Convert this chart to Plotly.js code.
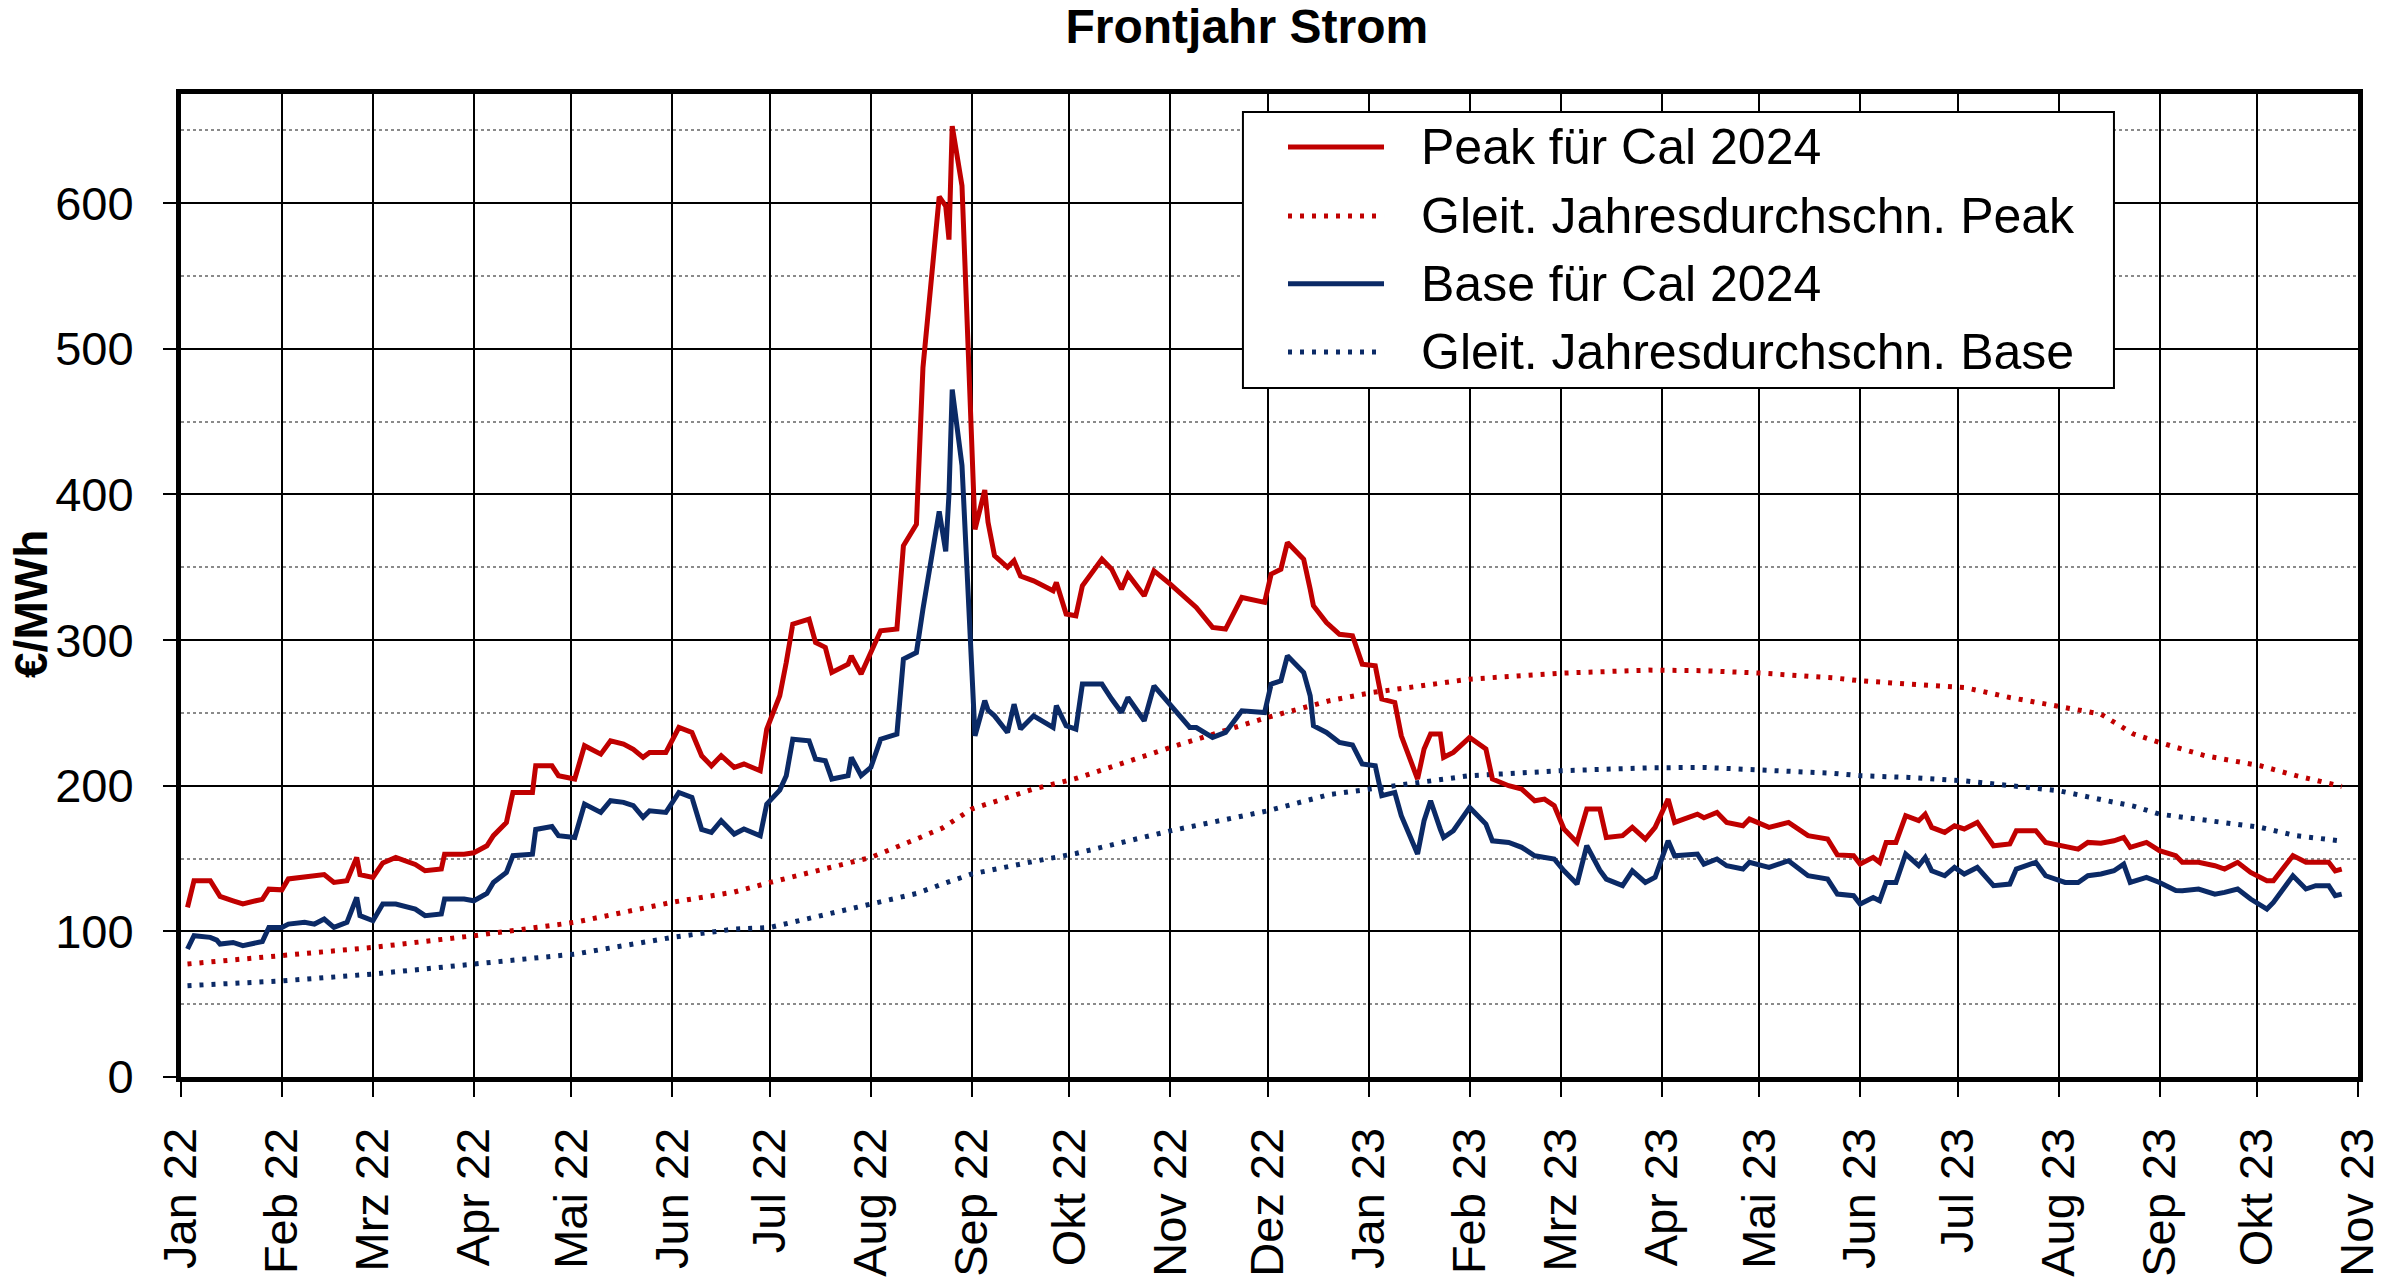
<!DOCTYPE html>
<html>
<head>
<meta charset="utf-8">
<script src="https://cdn.plot.ly/plotly-3.0.1.min.js"></script>
<style>
  html, body { margin: 0; padding: 0; background: #fff; }
  #chart { width: 2400px; height: 1287px; }
</style>
</head>
<body>
<div id="chart"></div>
<script>
// trading days (shared by Peak and Base)
const dates = [
  '2022-01-03','2022-01-04','2022-01-05','2022-01-10','2022-01-12','2022-01-13','2022-01-17','2022-01-20','2022-01-24','2022-01-26','2022-01-28',
  '2022-02-01','2022-02-03','2022-02-08','2022-02-11','2022-02-14','2022-02-17','2022-02-21','2022-02-24','2022-02-25',
  '2022-03-01','2022-03-04','2022-03-08','2022-03-14','2022-03-17','2022-03-22','2022-03-23','2022-03-29',
  '2022-04-01','2022-04-05','2022-04-07','2022-04-11','2022-04-13','2022-04-19','2022-04-20','2022-04-25','2022-04-27',
  '2022-05-02','2022-05-05','2022-05-10','2022-05-13','2022-05-17','2022-05-20','2022-05-23','2022-05-25','2022-05-30',
  '2022-06-03','2022-06-07','2022-06-10','2022-06-13','2022-06-16','2022-06-20','2022-06-23','2022-06-28','2022-06-30',
  '2022-07-04','2022-07-06','2022-07-08','2022-07-13','2022-07-15','2022-07-18','2022-07-20','2022-07-25','2022-07-26','2022-07-29',
  '2022-08-01','2022-08-04','2022-08-09','2022-08-11','2022-08-15','2022-08-17','2022-08-22','2022-08-24','2022-08-25','2022-08-26','2022-08-29',
  '2022-09-02','2022-09-05','2022-09-06','2022-09-08','2022-09-12','2022-09-14','2022-09-16','2022-09-20','2022-09-26','2022-09-27','2022-09-30',
  '2022-10-03','2022-10-05','2022-10-11','2022-10-14','2022-10-17','2022-10-19','2022-10-24','2022-10-27',
  '2022-11-01','2022-11-07','2022-11-09','2022-11-14','2022-11-18','2022-11-23','2022-11-30',
  '2022-12-02','2022-12-05','2022-12-07','2022-12-12','2022-12-14','2022-12-15','2022-12-19','2022-12-23','2022-12-27','2022-12-30',
  '2023-01-03','2023-01-05','2023-01-09','2023-01-11','2023-01-16','2023-01-18','2023-01-20','2023-01-23','2023-01-24','2023-01-27',
  '2023-02-01','2023-02-06','2023-02-08','2023-02-13','2023-02-17','2023-02-21','2023-02-24','2023-02-27',
  '2023-03-02','2023-03-06','2023-03-09','2023-03-13','2023-03-15','2023-03-20','2023-03-23','2023-03-27','2023-03-30',
  '2023-04-03','2023-04-05','2023-04-12','2023-04-14','2023-04-18','2023-04-21','2023-04-26','2023-04-28',
  '2023-05-04','2023-05-10','2023-05-16','2023-05-22','2023-05-25','2023-05-30',
  '2023-06-01','2023-06-05','2023-06-07','2023-06-09','2023-06-12','2023-06-15','2023-06-19','2023-06-21','2023-06-23','2023-06-27','2023-06-30',
  '2023-07-03','2023-07-07','2023-07-12','2023-07-17','2023-07-19','2023-07-25','2023-07-28',
  '2023-08-03','2023-08-07','2023-08-10','2023-08-14','2023-08-18','2023-08-21','2023-08-23','2023-08-28',
  '2023-09-01','2023-09-06','2023-09-08','2023-09-13','2023-09-18','2023-09-21','2023-09-25','2023-09-29',
  '2023-10-04','2023-10-06','2023-10-12','2023-10-16','2023-10-19','2023-10-23','2023-10-25','2023-10-27'
];

const peak = [
  116.5,126.8,134.8,134.8,127,124,121,118.8,121,122,129,
  128.5,136,137,138,139,133.6,134.8,150.8,139,
  137,147,150.8,146,141.6,142.8,153,153,
  154,158.8,165.7,174.8,195.4,195.4,213.7,213.7,206.9,
  204.6,227.5,221.7,230.9,228.6,225,219.5,222.9,222.9,
  240,236.6,220.6,213.7,220.6,212.6,214.9,210.3,238.9,
  261.8,284.7,311,314.4,298.4,295,277.8,283.5,289.2,276.7,
  291.5,306.4,307.6,364.8,379.6,487,604.5,598,575,653,612,
  376,403,381,358,350,354.5,344,340.7,333.9,339.6,317.9,
  316.7,337.3,355.6,348.7,335,345.3,330.4,347.6,
  338.4,325.9,322.4,308.7,307.6,329.3,325.9,
  345.3,348.7,367,355.6,335,323.6,312.1,304,303,283.5,
  282.4,259.5,257.2,234.3,204.6,225.2,235.5,235.5,219.5,222.9,
  233.2,225.2,204.6,200,197.7,189.7,190.8,186.3,
  170.3,161.1,184,184,164.5,165.7,171.4,163.4,171.4,
  190.8,174.8,180.5,178,181.7,174.8,172.5,177.1,
  171.4,174.8,165.7,163.4,152.5,152,
  146.2,150.8,147.4,161.1,161.1,179.4,176,180.5,171.4,168,172.5,
  170.3,174.8,158.8,160,169.1,169.1,161.1,
  158.8,156.5,161.1,160.5,162.2,164.5,157.7,161.1,
  155.4,152,147.4,147.4,145.1,142.8,147.4,140.5,
  134.8,134.8,152,147.4,147.4,147.4,141.6,142.8
];

const base = [
  87.9,93,97,95.9,94,91.3,92.4,90.2,91.5,93,102.7,
  102.7,105,106.2,105,108.5,102.7,106.2,123.3,110.8,
  107.3,118.8,118.8,115.3,110.8,111.9,122.2,122.2,
  121,126,133.6,140.5,152,153,170,172,165.7,
  164.5,187.4,181.7,189.7,188.6,186.3,178.3,182.8,181.7,
  195.4,192,170,168,176,166.8,170.3,165.7,187.4,
  197,206.9,232,230.9,218.3,217.2,204.6,206.9,219.5,206.9,
  212.6,232,235.5,287,291.5,321.3,388.4,361,400,472,420,
  234.3,258.4,252,248,236.6,256,238.9,248,240,255,241.2,
  238.9,269.8,269.8,259.5,250.3,260.6,244.6,268.6,
  255,240,240,233.2,236.6,251.5,250.3,
  269.8,272,289.2,277.8,261.8,241.2,236.6,229.7,228,214.9,
  213.7,193.1,195.4,179.4,153.1,176,189.7,170,164.5,169.1,
  185.1,173.7,162.2,161.1,157.7,151.9,151,149.7,
  141.6,132.5,158.8,142,135.9,131.4,141.6,133.6,137.1,
  162.2,151.9,153.1,146.2,149.7,145.1,142.8,147.4,
  143.9,148.5,138.2,135.9,125.6,124.5,
  118.8,123.3,121,133.6,133.6,153.1,145.1,150.8,141.6,138.2,143.9,
  139.4,143.9,131.4,132.5,142.8,147.4,138.2,
  133.6,133.6,138.2,139.4,141.6,146.2,133.6,137.1,
  133.6,128,127.9,129.1,125.6,126.8,129.1,122.2,
  115.3,119.9,138.2,129.1,131.4,131.4,124.5,125.6
];

// rolling one-year averages
const avgDates = [
  '2022-01-03','2022-02-01','2022-03-01','2022-04-01','2022-05-02','2022-06-01','2022-06-20','2022-07-01',
  '2022-08-01','2022-08-15','2022-08-23','2022-09-01','2022-09-20','2022-10-03','2022-11-01','2022-12-01','2022-12-20',
  '2023-01-02','2023-01-17','2023-02-01','2023-03-01','2023-03-28','2023-04-14','2023-05-02','2023-05-24',
  '2023-06-01','2023-06-16','2023-07-03','2023-07-17','2023-08-01','2023-08-14','2023-08-24','2023-09-01',
  '2023-09-15','2023-10-02','2023-10-13','2023-10-27'
];
const peakAvg = [
  77.6,83.3,89,97,106.2,120,127,133.6,
  150.8,163.4,171,184,197.7,205,226.3,247,258.4,
  264,268.6,273.2,277.3,279.4,279,277.3,274,
  272.1,269.8,267.5,260.6,254.9,249.2,235.5,229.7,
  220.6,213.7,206.9,199.5
];
const baseAvg = [
  62.7,66,70.7,77.6,84.4,95.9,101.6,102.7,
  118.8,126,132.5,139.4,148,153.5,169,182.8,194,
  197.7,202.3,206.9,210.3,212.3,212.6,211,208.5,
  206.9,205.7,203.4,200,196.6,190.5,186,180.5,
  176.5,171.4,165.7,162
];

const monthTicks = [
  '2022-01-01','2022-02-01','2022-03-01','2022-04-01','2022-05-01','2022-06-01','2022-07-01','2022-08-01',
  '2022-09-01','2022-10-01','2022-11-01','2022-12-01','2023-01-01','2023-02-01','2023-03-01','2023-04-01',
  '2023-05-01','2023-06-01','2023-07-01','2023-08-01','2023-09-01','2023-10-01','2023-11-01'
];
const monthLabels = [
  'Jan 22','Feb 22','Mrz 22','Apr 22','Mai 22','Jun 22','Jul 22','Aug 22','Sep 22','Okt 22','Nov 22','Dez 22',
  'Jan 23','Feb 23','Mrz 23','Apr 23','Mai 23','Jun 23','Jul 23','Aug 23','Sep 23','Okt 23','Nov 23'
];

const seriesNames = ['Peak für Cal 2024', 'Gleit. Jahresdurchschn. Peak', 'Base für Cal 2024', 'Gleit. Jahresdurchschn. Base'];

const RED = '#C00000';
const BLUE = '#0B2A66';
const DOTS = '4px,8px';
const FONT = 'Liberation Sans, Arial, sans-serif';

const traces = [
  { x: avgDates, y: peakAvg, name: seriesNames[1], line: { color: RED, width: 5, dash: DOTS } },
  { x: avgDates, y: baseAvg, name: seriesNames[3], line: { color: BLUE, width: 5, dash: DOTS } },
  { x: dates, y: base, name: seriesNames[2], line: { color: BLUE, width: 5 } },
  { x: dates, y: peak, name: seriesNames[0], line: { color: RED, width: 5 } }
].map(t => Object.assign({ type: 'scatter', mode: 'lines', showlegend: false, hoverinfo: 'skip' }, t));

// hand-made legend box so the line samples can be long like in the original
const legendRows = [0.946, 0.876, 0.807, 0.7375];
const legendStyle = [
  { color: RED, dash: 'solid' },
  { color: RED, dash: DOTS },
  { color: BLUE, dash: 'solid' },
  { color: BLUE, dash: DOTS }
];
const shapes = [{
  type: 'rect', xref: 'paper', yref: 'paper', x0: 0.4878, x1: 0.8879, y0: 0.701, y1: 0.9817,
  fillcolor: '#fff', line: { color: '#000', width: 2 }, layer: 'above'
}];
const annotations = [];
legendRows.forEach((y, i) => {
  shapes.push({
    type: 'line', xref: 'paper', yref: 'paper', x0: 0.5085, x1: 0.5526, y0: y, y1: y, layer: 'above',
    line: { color: legendStyle[i].color, width: 5, dash: legendStyle[i].dash }
  });
  annotations.push({
    xref: 'paper', yref: 'paper', x: 0.5685, y: y, xanchor: 'left', yanchor: 'middle',
    text: seriesNames[i], showarrow: false, font: { family: FONT, size: 50, color: '#000' }
  });
});
annotations.push({
  xref: 'paper', yref: 'paper', x: -0.069, y: 0.481, xanchor: 'center', yanchor: 'middle',
  text: '€/MWh', textangle: -90, showarrow: false,
  font: { family: FONT, size: 46, color: '#000', weight: 700 }
});

const layout = {
  width: 2400,
  height: 1287,
  margin: { l: 181, r: 42, t: 94, b: 210 },
  paper_bgcolor: '#fff',
  plot_bgcolor: '#fff',
  font: { family: FONT, color: '#000' },
  title: {
    text: 'Frontjahr Strom',
    xref: 'container', x: 0.5195, xanchor: 'center',
    yref: 'container', y: 0.98, yanchor: 'middle',
    font: { family: FONT, size: 48, color: '#000', weight: 700 }
  },
  xaxis: {
    type: 'date',
    range: ['2022-01-01', '2023-11-01'],
    tickmode: 'array',
    tickvals: monthTicks,
    ticktext: monthLabels,
    tickangle: -90,
    tickfont: { family: FONT, size: 47, color: '#000' },
    ticks: 'outside', ticklen: 15, tickwidth: 2, tickcolor: '#000',
    ticklabelstandoff: 12,
    showgrid: true, gridcolor: '#000', gridwidth: 2,
    showline: true, linecolor: '#000', linewidth: 5, mirror: true,
    zeroline: false, fixedrange: true
  },
  yaxis: {
    range: [0, 675],
    tickmode: 'linear', tick0: 0, dtick: 100,
    tickfont: { family: FONT, size: 47, color: '#000' },
    ticks: 'outside', ticklen: 13, tickwidth: 2, tickcolor: '#000',
    ticklabelstandoff: 20,
    showgrid: true, gridcolor: '#000', gridwidth: 2,
    minor: { dtick: 50, showgrid: true, gridcolor: '#8a8a8a', gridwidth: 2, griddash: 'dot', ticks: '' },
    showline: true, linecolor: '#000', linewidth: 5, mirror: true,
    zeroline: false, fixedrange: true
  },
  shapes: shapes,
  annotations: annotations
};

Plotly.newPlot('chart', traces, layout, { displayModeBar: false, staticPlot: true });
</script>
</body>
</html>
